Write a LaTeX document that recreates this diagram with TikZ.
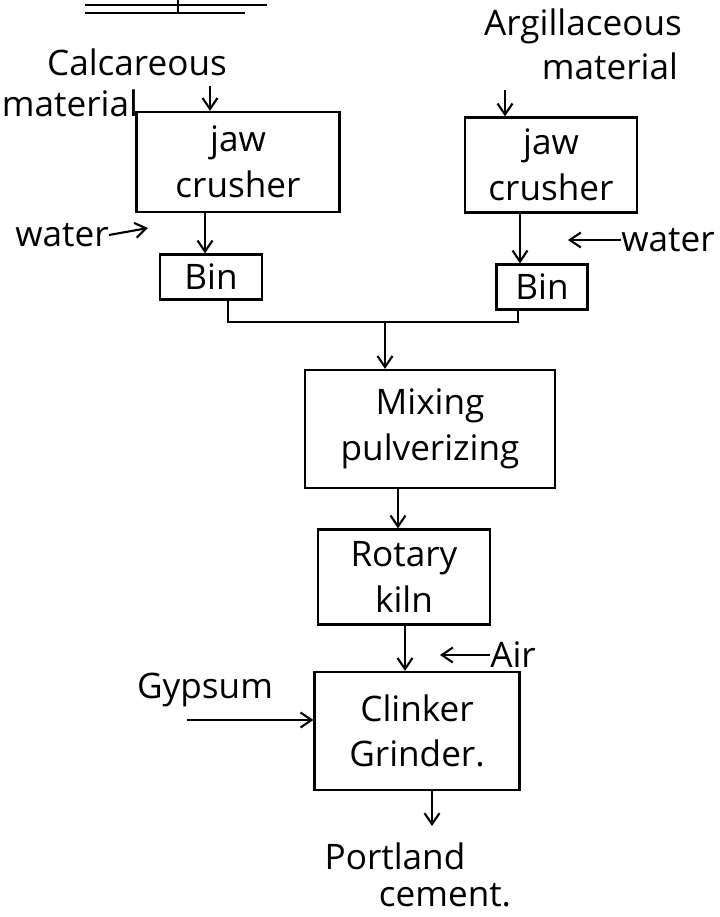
\documentclass[tikz,border=0pt]{standalone}
\usepackage{fontspec}
\setmainfont{Open Sans}
\usetikzlibrary{arrows.meta, positioning, calc}
\tikzset{
	unit/.style={rectangle, draw=black, line width=1.3pt, text centered, align=center, inner sep=2pt},
	flowarrow/.style={-{Straight Barb[length=2.2mm, width=3mm]}, line width=1.2pt},
	joinline/.style={line width=1.2pt},
	lbl/.style={inner sep=0pt, align=left},
}

\begin{document}
\begin{tikzpicture}[x=0.02cm, y=-0.02cm, font=\fontsize{20}{26}\selectfont]
	\useasboundingbox (0,0) rectangle (720,917);
	% heading underline, cut off at the top
	\draw[line width=1.2pt] (85,5) -- (267,5);
	\draw[line width=1.2pt] (85,13) -- (245,13);
	\draw[line width=1.2pt] (178,0) -- (178,13);
	% feeds
	\node[lbl] (calc) at (137,62) {Calcareous};
	\node[lbl] (calcm) at (70,103) {material};
	\node[lbl] (arg) at (583,26) {Argillaceous};
	\node[lbl] (argm) at (610,66) {material};
	% process units
	\node[unit, minimum width=4.06cm, minimum height=2cm] (jawL) at (238,162) {jaw\\crusher};
	\node[unit, minimum width=3.44cm, minimum height=1.9cm] (jawR) at (551,165) {jaw\\crusher};
	\node[unit, minimum width=2.04cm, minimum height=0.9cm] (binL) at (211,277) {Bin};
	\node[unit, minimum width=1.82cm, minimum height=0.9cm] (binR) at (542,287) {Bin};
	\node[unit, minimum width=5cm, minimum height=2.36cm] (mix) at (430,429) {Mixing\\pulverizing};
	\node[unit, minimum width=3.44cm, minimum height=1.9cm] (kiln) at (404,577) {Rotary\\kiln};
	\node[unit, minimum width=4.1cm, minimum height=2.36cm] (clink) at (417,731) {Clinker\\Grinder.};
	\node[lbl] (port) at (395,856) {Portland};
	\node[lbl] (cem) at (445,895) {cement.};
	% side inputs
	\node[lbl] (wL) at (62,235) {water};
	\node[lbl] (wR) at (668,240) {water};
	\node[lbl] (air) at (513,655) {Air};
	\node[lbl] (gyp) at (205,690) {Gypsum};
	\coordinate (c0) at (210,86);
	\coordinate (a0) at (505,90);
	\coordinate (wL1) at (148,228);
	\coordinate (wR1) at (568,240);
	\coordinate (air1) at (440,655);
	\coordinate (g0) at (187,720);
	\coordinate (out) at (432,826);
	\coordinate (m0) at (385,322);
	% x positions of the vertical connectors
	\coordinate (xL) at (205,0);
	\coordinate (xR) at (520,0);
	\coordinate (xjL) at (228,0);
	\coordinate (xjR) at (518,0);
	\coordinate (xk) at (398,0);
	\coordinate (xc) at (405,0);
	% arrows
	\draw[flowarrow] (c0) -- (c0 |- jawL.north);
	\draw[flowarrow] (a0) -- (a0 |- jawR.north);
	\draw[flowarrow] (xL |- jawL.south) -- (xL |- binL.north);
	\draw[flowarrow] (xR |- jawR.south) -- (xR |- binR.north);
	\draw[flowarrow] (wL.east) -- (wL1);
	\draw[flowarrow] (wR.west) -- (wR1);
	\draw[joinline] (xjL |- binL.south) -- (xjL |- m0) -- (xjR |- m0) -- (xjR |- binR.south);
	\draw[flowarrow] (m0) -- (m0 |- mix.north);
	\draw[flowarrow] (xk |- mix.south) -- (xk |- kiln.north);
	\draw[flowarrow] (xc |- kiln.south) -- (xc |- clink.north);
	\draw[flowarrow] (air.west) -- (air1);
	\draw[flowarrow] (g0) -- (clink.west |- g0);
	\draw[flowarrow] (out |- clink.south) -- (out);
\end{tikzpicture}
\end{document}
